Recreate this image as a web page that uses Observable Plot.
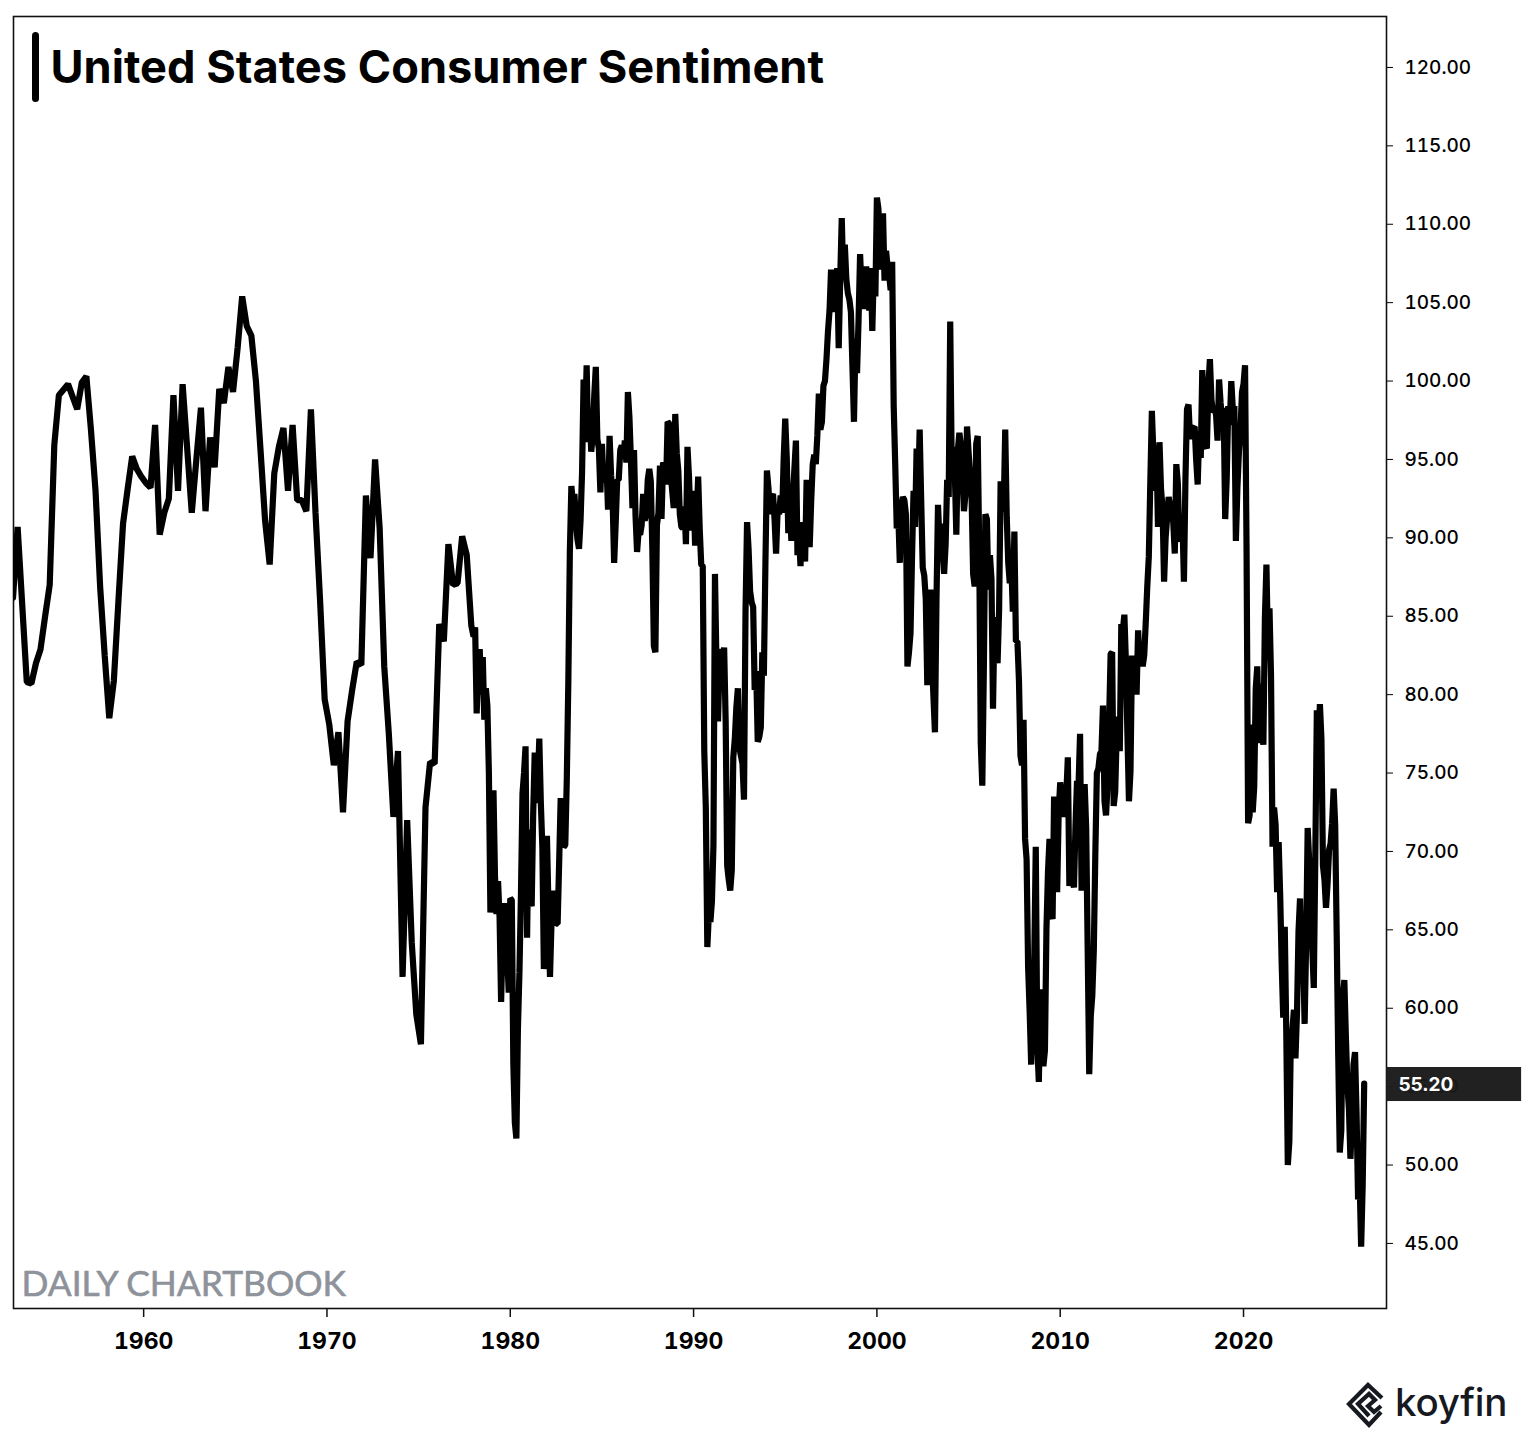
<!DOCTYPE html>
<html>
<head>
<meta charset="utf-8">
<script src="https://cdn.jsdelivr.net/npm/d3@7"></script>
<script src="https://cdn.jsdelivr.net/npm/@observablehq/plot@0.6"></script>
<style>
html,body{margin:0;padding:0;background:#fff}
#wrap{position:relative;width:1534px;height:1444px;overflow:hidden}
#bar{position:absolute;left:32px;top:32px;width:7px;height:70px;border-radius:3.5px;background:#000}
#logo{position:absolute;left:1340px;top:1375px}
#koyfin{position:absolute;left:1395px;top:1379px;font:500 38.5px Inter,sans-serif;color:#16191f;letter-spacing:-.2px}
</style>
</head>
<body>
<div id="wrap">
<div id="chart"></div>
<div id="bar"></div>
<svg id="logo" width="50" height="60" viewBox="1340 1375 50 60" fill="none" stroke="#16191f" stroke-width="4.2" stroke-linejoin="miter">
<path d="M1382 1398 L1368 1385 L1349 1404 L1369 1425 L1381 1412"/>
<path d="M1369 1416 L1358 1404 L1369 1394 L1375 1400 L1368 1406 L1374 1412 L1381 1406"/>
</svg>
<div id="koyfin">koyfin</div>
</div>
<script>
const titleText = "United States Consumer Sentiment";
const watermark = "DAILY CHARTBOOK";
const lastValue = 55.2;
const xDomain = [1952.9, 2027.8];
const yDomain = [40.85, 123.25];
const xTicks = [1960,1970,1980,1990,2000,2010,2020];
const yTicks = [45,50,55,60,65,70,75,80,85,90,95,100,105,110,115,120];

const earlyYears = [1952.875,1953.125,1953.625,1953.875,1954.125,1954.375,1954.625,1954.875,1955.125,1955.375,1955.875,1956.375,1956.625,1956.875,1957.125,1957.375,1957.625,1957.875,1958.125,1958.375,1958.625,1958.875,1959.125,1959.375,1959.625,1959.875,1960.125,1960.375,1960.625,1960.875,1961.125,1961.375,1961.625,1961.875,1962.125,1962.375,1962.625,1962.875,1963.125,1963.375,1963.625,1963.875,1964.125,1964.375,1964.625,1964.875,1965.125,1965.375,1965.625,1965.875,1966.125,1966.375,1966.625,1966.875,1967.125,1967.375,1967.625,1967.875,1968.125,1968.375,1968.625,1968.875,1969.125,1969.375,1969.625,1969.875,1970.125,1970.375,1970.625,1970.875,1971.125,1971.375,1971.625,1971.875,1972.125,1972.375,1972.625,1972.875,1973.125,1973.375,1973.625,1973.875,1974.125,1974.375,1974.625,1974.875,1975.125,1975.375,1975.625,1975.875,1976.125,1976.375,1976.625,1976.875,1977.125,1977.375,1977.625,1977.875];
const earlyValues = [86.2,90.7,80.8,80.7,82.0,82.9,85.0,87.0,95.9,99.1,99.8,98.2,99.9,100.3,96.9,93.0,86.9,82.5,78.5,80.9,86.0,90.9,93.1,95.2,94.4,93.9,93.5,93.2,97.2,90.2,91.6,92.5,99.1,93.0,99.8,95.7,91.6,95.0,98.3,91.7,96.4,94.5,99.5,98.6,100.9,99.3,102.1,105.4,103.5,102.9,100.0,95.6,91.1,88.3,94.1,95.8,97.0,93.0,97.2,92.4,92.4,91.7,98.2,91.6,86.0,79.7,78.1,75.5,77.6,72.5,78.3,80.3,82.1,81.9,92.7,88.7,95.0,90.6,81.8,77.5,72.2,76.4,62.0,72.0,64.2,59.6,57.7,72.8,75.7,75.6,84.5,83.4,89.6,87.0,87.1,90.1,88.9,84.4];

const monthlyStart = 1978;
const monthlyValues = [
83.7,84.3,78.8,81.6,82.9,80.0,82.4,78.4,80.4,79.3,75.0,66.1,
72.1,73.9,68.4,66.0,68.1,65.8,60.4,64.5,66.7,62.1,63.3,61.0,
67.0,66.9,56.5,52.7,51.7,58.7,62.3,67.3,73.7,75.0,76.7,64.5,
71.4,66.9,66.5,72.4,76.3,73.1,74.1,77.2,73.1,70.3,62.5,64.3,
71.0,66.5,62.0,65.5,67.5,65.7,65.4,65.4,69.3,73.4,71.1,70.3,
70.4,74.6,80.8,89.1,93.3,92.2,92.8,90.9,89.9,89.3,91.1,94.2,
100.1,97.4,101.0,96.1,98.1,95.5,96.6,99.1,100.9,96.3,95.7,92.9,
96.0,93.7,93.7,94.6,91.8,96.5,94.0,92.4,88.4,90.9,93.7,93.7,
95.6,95.9,95.1,96.2,94.8,99.3,97.7,94.9,91.9,95.6,91.4,89.1,
90.4,90.2,90.8,92.8,91.1,91.5,93.7,94.4,93.6,89.3,83.1,82.7,
90.8,91.6,94.6,91.2,94.8,94.7,93.4,97.4,97.3,94.1,93.0,91.9,
97.9,95.4,94.3,91.5,90.7,90.6,92.0,89.6,95.8,93.9,90.9,90.5,
93.0,89.5,91.3,93.9,90.6,88.3,88.2,76.4,72.8,63.9,66.0,65.5,
66.8,70.4,87.7,81.8,78.3,82.1,82.9,82.0,83.0,78.3,69.1,68.2,
67.5,68.8,76.0,77.2,79.2,80.4,76.6,76.1,75.6,73.3,85.3,91.0,
89.3,86.6,85.9,85.6,80.3,81.5,77.0,77.3,77.9,82.7,81.2,88.2,
94.3,93.2,91.5,92.6,92.8,91.2,89.0,91.7,91.5,92.7,91.6,95.1,
97.6,95.1,90.3,92.5,89.8,92.7,94.4,96.2,88.9,90.2,88.2,91.0,
89.3,88.5,93.7,92.7,89.4,92.4,94.7,95.3,94.7,96.5,99.2,96.9,
97.4,99.7,100.0,101.4,103.2,104.5,107.1,104.4,106.0,105.6,107.2,102.1,
106.6,110.4,106.5,108.7,106.5,105.6,105.2,104.4,100.9,97.4,102.7,100.5,
103.9,108.1,105.7,104.6,106.8,107.3,106.0,104.5,107.2,103.2,107.2,105.4,
111.7,111.0,107.1,109.2,110.7,106.4,108.3,107.3,106.8,105.8,107.6,98.4,
94.7,90.6,91.5,88.4,92.0,92.6,92.4,91.5,81.8,82.7,83.9,88.8,
93.0,90.7,95.7,93.0,96.9,92.4,88.1,87.6,86.1,80.6,84.2,86.7,
82.4,79.9,77.6,86.0,92.1,89.7,90.9,89.3,87.7,89.6,93.7,92.6,
103.8,94.4,95.8,94.2,90.2,95.6,96.7,95.9,94.2,91.7,92.8,97.1,
95.5,94.1,92.6,87.7,86.9,96.0,96.5,89.1,76.9,74.2,81.6,91.5,
91.2,86.7,88.9,87.4,79.1,84.9,84.7,82.0,85.4,93.6,92.1,91.7,
96.9,91.3,88.4,87.1,88.3,85.3,90.4,83.4,83.4,80.9,76.1,75.5,
78.4,70.8,69.5,62.6,59.8,56.4,61.2,63.0,70.3,57.6,55.3,60.1,
61.2,56.3,57.3,65.1,68.7,70.8,66.0,65.7,73.5,70.6,67.4,72.5,
74.4,73.6,73.6,72.2,73.6,76.0,67.8,68.9,68.2,67.7,71.6,74.5,
74.2,77.5,67.5,69.8,74.3,71.5,63.7,55.8,59.5,60.8,63.7,69.9,
75.0,75.3,76.2,76.4,79.3,73.2,72.3,74.3,78.3,82.6,82.7,72.9,
73.8,77.6,78.6,76.4,84.5,84.1,85.1,82.1,77.5,73.2,75.1,82.5,
81.2,81.6,80.0,84.1,81.9,82.5,81.8,82.5,84.6,86.9,88.8,93.6,
98.1,95.4,93.0,95.9,90.7,96.1,93.1,91.9,87.2,90.0,91.3,92.6,
92.0,91.7,91.0,89.0,94.7,93.5,90.0,89.8,91.2,87.2,93.8,98.2,
98.5,96.3,96.9,97.0,97.1,95.0,93.4,96.8,95.1,100.7,98.5,95.9,
95.7,99.7,101.4,98.8,98.0,98.2,97.9,96.2,100.1,98.6,97.5,98.3,
91.2,93.8,98.4,97.2,100.0,98.2,98.4,89.8,93.2,95.5,96.8,99.3,
99.8,101.0,89.1,71.8,72.3,78.1,72.5,74.1,80.4,81.8,76.9,80.7,
79.0,76.8,84.9,88.3,82.9,85.5,81.2,70.3,72.8,71.7,67.4,70.6,
67.2,62.8,59.4,65.2,58.4,50.0,51.5,58.2,58.6,59.9,56.8,59.7,
64.9,67.0,62.0,63.7,59.0,64.2,71.5,69.4,67.9,63.8,61.3,69.7,
79.0,76.9,79.4,77.2,69.1,68.2,66.4,67.9,70.1,70.5,71.8,74.0,
71.7,64.7,57.0,50.8,52.2,60.7,61.8,58.2,55.1,53.6,50.4,52.9,
56.4,57.2,53.3,47.8,49.0,44.8,48.7,55.2];

const series = [
  ...earlyYears.map((x, i) => ({x, y: earlyValues[i]})),
  ...monthlyValues.map((y, i) => ({x: monthlyStart + i / 12, y}))
];

const chart = Plot.plot({
  width: 1534,
  height: 1444,
  marginLeft: 13,
  marginRight: 148,
  marginTop: 16,
  marginBottom: 136,
  style: {background: "#fff", fontFamily: "Inter, sans-serif", color: "#000"},
  x: {domain: xDomain, label: null},
  y: {domain: yDomain, label: null},
  marks: [
    Plot.frame({stroke: "#111", strokeWidth: 1.6, strokeOpacity: 1}),
    Plot.axisX({ticks: xTicks, tickFormat: d3.format("d"), tickSize: 9, tickPadding: 15, fontSize: 23, fontWeight: 700, label: null, strokeWidth: 1.5, fill: "#000", stroke: "#111"}),
    Plot.axisY({anchor: "right", ticks: yTicks, tickFormat: d3.format(".2f"), tickSize: 6, tickPadding: 12, fontSize: 19, fontWeight: 500, label: null, fill: "#000"}),
    Plot.line(series, {x: "x", y: "y", stroke: "#000", strokeWidth: 6.2, curve: "linear", strokeLinejoin: "miter", strokeMiterlimit: 1, clip: true}),
    Plot.rect([lastValue], {x1: xDomain[1], x2: xDomain[1] + 7.37, y1: d => d - 1.15, y2: d => d + 1.02, fill: "#1a1a1a", fillOpacity: 0.97}),
    Plot.text([lastValue], {x: xDomain[1] + 0.65, y: d => d, dy: 1, text: d => d.toFixed(2), textAnchor: "start", fill: "#fff", fontSize: 19, fontWeight: 700}),
    Plot.text([titleText], {frameAnchor: "top-left", dx: 37, dy: 52, fontSize: 45.2, fontWeight: 700, fill: "#000", textAnchor: "start", lineAnchor: "middle"}),
    Plot.text([watermark], {frameAnchor: "bottom-left", dx: 8, dy: -13, fontSize: 35.4, fontFamily: "Lato, sans-serif", fontWeight: 400, fill: "#8e929a", stroke: "#8e929a", strokeWidth: 0.6, textAnchor: "start", lineAnchor: "bottom"})
  ]
});
document.getElementById("chart").append(chart);
</script>
</body>
</html>
